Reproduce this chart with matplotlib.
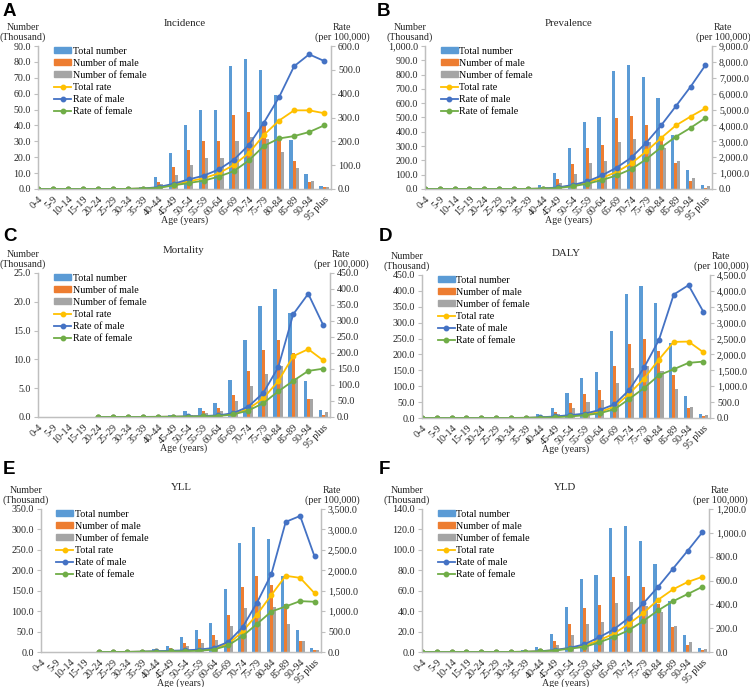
import numpy as np
import matplotlib.pyplot as plt
from matplotlib.patches import Patch
from matplotlib.lines import Line2D
from matplotlib.ticker import FuncFormatter

nan = np.nan

ages = ['0-4', '5-9', '10-14', '15-19', '20-24', '25-29', '30-34', '35-39',
        '40-44', '45-49', '50-54', '55-59', '60-64', '65-69', '70-74',
        '75-79', '80-84', '85-89', '90-94', '95 plus']

# A - Incidence (numbers in thousand, rates per 100,000)
inc_total = [0, 0, 0, 0, 0, 0, 0.4, 1.5, 7.6, 22.8, 40.0, 49.8, 49.7, 77.2, 82.0, 75.0, 59.0, 31.0, 9.5, 2.0]
inc_male = [0, 0, 0, 0, 0, 0, 0.2, 0.8, 4.5, 14.0, 24.5, 30.2, 30.2, 46.4, 48.5, 40.5, 33.0, 17.5, 4.3, 1.0]
inc_female = [0, 0, 0, 0, 0, 0, 0.2, 0.7, 3.1, 8.6, 15.3, 19.5, 19.2, 30.4, 33.0, 31.5, 23.5, 13.2, 5.0, 1.0]
inc_rate_total = [0, 0, 0, 0, 0, 0, 0.5, 2, 6, 17, 32, 45, 66, 101, 151, 227, 287, 330, 330, 318]
inc_rate_male = [0, 0, 0, 0, 0, 0, 0.5, 2, 8, 22, 40, 56, 82, 123, 185, 279, 385, 515, 565, 537]
inc_rate_female = [0, 0, 0, 0, 0, 0, 0.5, 2, 5, 15, 25, 35, 52, 75, 120, 181, 212, 222, 239, 267]

# B - Prevalence
prev_total = [0, 0, 0, 0, 0, 0, 1, 3, 28, 115, 285, 468, 503, 828, 865, 782, 635, 380, 133, 30]
prev_male = [0, 0, 0, 0, 0, 0, 0.5, 1.5, 15, 70, 178, 287, 308, 497, 512, 450, 345, 180, 53, 10]
prev_female = [0, 0, 0, 0, 0, 0, 0.5, 1.5, 12, 45, 108, 182, 195, 330, 352, 332, 290, 198, 80, 20]
prev_rate_total = [0, 0, 0, 0, 0, 0, 2, 8, 25, 80, 200, 410, 700, 1080, 1620, 2370, 3210, 4000, 4560, 5080]
prev_rate_male = [0, 0, 0, 0, 0, 0, 2, 8, 30, 100, 250, 480, 860, 1350, 1990, 2920, 4000, 5210, 6440, 7790]
prev_rate_female = [0, 0, 0, 0, 0, 0, 2, 6, 20, 60, 170, 330, 565, 860, 1260, 1880, 2620, 3290, 3850, 4470]

# C - Mortality
mort_total = [0, 0, 0, 0, 0, 0, 0, 0.1, 0.15, 0.3, 1.0, 1.6, 2.4, 6.4, 13.4, 19.2, 22.2, 18.0, 6.2, 1.2]
mort_male = [0, 0, 0, 0, 0, 0, 0, 0.05, 0.1, 0.2, 0.6, 1.0, 1.5, 3.8, 8.0, 11.7, 13.3, 11.1, 3.2, 0.4]
mort_female = [0, 0, 0, 0, 0, 0, 0, 0.05, 0.05, 0.1, 0.4, 0.7, 1.0, 2.7, 5.4, 7.5, 8.9, 6.8, 3.1, 0.8]
mort_rate_total = [nan, nan, nan, nan, 0, 0, 0, 0.2, 0.5, 1, 1.5, 3, 4, 9, 25, 58, 112, 190, 212, 177]
mort_rate_male = [nan, nan, nan, nan, 0, 0, 0, 0.3, 0.6, 1, 2, 3, 5, 12, 32, 75, 155, 321, 385, 287]
mort_rate_female = [nan, nan, nan, nan, 0, 0, 0, 0.1, 0.3, 0.6, 1, 2, 3, 8, 20, 43, 80, 113, 144, 151]

# D - DALY
daly_total = [0, 0, 0, 0, 0, 0, 0.5, 1, 12, 33, 80, 125, 145, 275, 390, 415, 362, 235, 70, 13]
daly_male = [0, 0, 0, 0, 0, 0, 0.3, 0.6, 7, 20, 48, 75, 87, 163, 232, 250, 212, 134, 33, 5]
daly_female = [0, 0, 0, 0, 0, 0, 0.2, 0.4, 5, 12, 30, 49, 57, 111, 157, 165, 148, 92, 36, 9]
daly_rate_total = [0, 0, 0, 0, 0, 0, 2, 5, 15, 35, 70, 110, 190, 355, 765, 1240, 1840, 2395, 2405, 2070]
daly_rate_male = [0, 0, 0, 0, 0, 0, 2, 6, 20, 50, 90, 140, 250, 430, 885, 1590, 2455, 3885, 4180, 3345]
daly_rate_female = [0, 0, 0, 0, 0, 0, 1, 4, 12, 25, 50, 85, 150, 275, 600, 945, 1345, 1535, 1735, 1775]

# E - YLL
yll_total = [0, 0, 0, 0, 0, 0, 0.5, 2, 7, 15, 36, 54, 70, 155, 266, 306, 276, 186, 53, 9]
yll_male = [0, 0, 0, 0, 0, 0, 0.3, 1.2, 4, 9, 22, 31, 41, 90, 158, 186, 165, 118, 26, 5]
yll_female = [0, 0, 0, 0, 0, 0, 0.2, 0.8, 3, 5, 14, 21, 29, 64, 108, 119, 110, 68, 26, 5]
yll_rate_total = [nan, nan, nan, nan, 0, 1, 3, 8, 15, 25, 30, 50, 80, 195, 500, 915, 1395, 1865, 1815, 1440]
yll_rate_male = [nan, nan, nan, nan, 0, 1, 3, 10, 20, 30, 40, 60, 100, 245, 605, 1205, 1905, 3185, 3330, 2340]
yll_rate_female = [nan, nan, nan, nan, 0, 1, 2, 6, 10, 15, 20, 30, 60, 160, 390, 685, 990, 1115, 1245, 1230]

# F - YLD
yld_total = [0, 0, 0, 0, 0, 0, 0.5, 1.5, 4.5, 18, 44, 71, 75, 121, 123.5, 109, 86, 50, 17, 4]
yld_male = [0, 0, 0, 0, 0, 0, 0.3, 0.8, 2.5, 11, 27, 43.5, 46, 73.5, 74, 63.5, 47, 24, 6.5, 1.5]
yld_female = [0, 0, 0, 0, 0, 0, 0.2, 0.7, 2, 7, 16.5, 27, 29, 47.5, 49, 45.5, 39, 25.5, 10, 2.5]
yld_rate_total = [0, 0, 0, 0, 0, 0, 0.5, 2, 6, 15, 33, 53, 98, 154, 235, 327, 438, 525, 587, 631]
yld_rate_male = [0, 0, 0, 0, 0, 0, 0.5, 2, 6, 17, 35, 64, 123, 190, 285, 408, 547, 698, 849, 1005]
yld_rate_female = [0, 0, 0, 0, 0, 0, 0.5, 2, 5, 12, 28, 42, 81, 126, 182, 260, 349, 425, 486, 547]

# colours (Office palette)
c_tot, c_male, c_fem = '#5B9BD5', '#ED7D31', '#A5A5A5'
l_tot, l_male, l_fem = '#FFC000', '#4472C4', '#70AD47'
grid_c = '#BFBFBF'
txt_c = '#262626'

plt.rcParams['font.family'] = ['Liberation Serif', 'DejaVu Serif']
plt.rcParams['font.size'] = 7.2

W, H = 750, 687
fig = plt.figure(figsize=(W / 100, H / 100), dpi=100)
fmt = FuncFormatter(lambda v, p: f'{v:,.1f}')


def panel(box, letter, lpos, title, lmax, lstep, rmax, rstep,
          tot, male, fem, r_tot, r_male, r_fem):
    l, t, r, b = box
    ax = fig.add_axes([l / W, 1 - b / H, (r - l) / W, (b - t) / H])
    x = np.arange(len(ages))
    bw = 0.21
    ax.bar(x - bw, tot, bw, color=c_tot)
    ax.bar(x, male, bw, color=c_male)
    ax.bar(x + bw, fem, bw, color=c_fem)
    ax.set_xlim(0, 19.45)
    ax.set_ylim(0, lmax)
    ax.set_yticks(np.arange(0, lmax + lstep / 2, lstep))
    ax.yaxis.set_major_formatter(fmt)
    ax.set_xticks(x)
    ax.set_xticklabels(ages, rotation=45, ha='right', rotation_mode='anchor')
    ax.tick_params(axis='x', length=0, pad=4, colors=txt_c)
    ax.tick_params(axis='y', length=3, width=0.8, color=grid_c, pad=2, labelcolor=txt_c)

    ax2 = ax.twinx()
    mk = dict(marker='o', markersize=3.2, linewidth=1.3)
    ax2.plot(x, r_tot, color=l_tot, **mk)
    ax2.plot(x, r_male, color=l_male, **mk)
    ax2.plot(x, r_fem, color=l_fem, **mk)
    ax2.set_ylim(0, rmax)
    ax2.set_yticks(np.arange(0, rmax + rstep / 2, rstep))
    ax2.yaxis.set_major_formatter(fmt)
    ax2.tick_params(axis='y', length=3, width=0.8, color=grid_c, pad=2, labelcolor=txt_c)

    for a in (ax, ax2):
        a.spines['top'].set_visible(False)
        for s in ('left', 'right', 'bottom'):
            a.spines[s].set_color(grid_c)
            a.spines[s].set_linewidth(0.9)

    handles = [Patch(color=c_tot), Patch(color=c_male), Patch(color=c_fem),
               Line2D([], [], color=l_tot, **mk),
               Line2D([], [], color=l_male, **mk),
               Line2D([], [], color=l_fem, **mk)]
    labels = ['Total number', 'Number of male', 'Number of female',
              'Total rate', 'Rate of male', 'Rate of female']
    ax2.legend(handles, labels, loc='upper left', bbox_to_anchor=(0.055, 0.995),
               frameon=False, fontsize=7.2, handlelength=1.7, handleheight=0.45,
               handletextpad=0.15, labelspacing=0.3, borderpad=0, borderaxespad=0)

    px = 72 / 100
    ax.annotate(title, xy=(0.5, 1), xycoords='axes fraction', xytext=(0, 22 * px),
                textcoords='offset points', ha='center', va='center', fontsize=7.8, color=txt_c)
    ax.annotate('Number\n(Thousand)', xy=(0, 1), xycoords='axes fraction',
                xytext=(-15 * px, 4 * px), textcoords='offset points',
                ha='center', va='bottom', fontsize=7.2, color=txt_c, linespacing=1.1)
    ax.annotate('Rate\n(per 100,000)', xy=(1, 1), xycoords='axes fraction',
                xytext=(11 * px, 4 * px), textcoords='offset points',
                ha='center', va='bottom', fontsize=7.2, color=txt_c, linespacing=1.1)
    ax.annotate('Age (years)', xy=(0.5, 0), xycoords='axes fraction',
                xytext=(0, -31 * px), textcoords='offset points',
                ha='center', va='center', fontsize=7.2, color=txt_c)
    fig.text(lpos[0] / W, 1 - lpos[1] / H, letter, fontsize=13.5, fontweight='bold',
             family='Liberation Sans', ha='left', va='top')


panel((38, 46, 331, 189), 'A', (3, 3), 'Incidence', 90, 10, 600, 100,
      inc_total, inc_male, inc_female, inc_rate_total, inc_rate_male, inc_rate_female)
panel((425, 46, 712, 189), 'B', (377, 3), 'Prevalence', 1000, 100, 9000, 1000,
      prev_total, prev_male, prev_female, prev_rate_total, prev_rate_male, prev_rate_female)
panel((38, 273, 330, 417), 'C', (3, 228), 'Mortality', 25, 5, 450, 50,
      mort_total, mort_male, mort_female, mort_rate_total, mort_rate_male, mort_rate_female)
panel((422, 275, 710, 418), 'D', (379, 228), 'DALY', 450, 50, 4500, 500,
      daly_total, daly_male, daly_female, daly_rate_total, daly_rate_male, daly_rate_female)
panel((41, 509, 321, 652), 'E', (3, 461), 'YLL', 350, 50, 3500, 500,
      yll_total, yll_male, yll_female, yll_rate_total, yll_rate_male, yll_rate_female)
panel((422, 509, 709, 652), 'F', (379, 461), 'YLD', 140, 20, 1200, 200,
      yld_total, yld_male, yld_female, yld_rate_total, yld_rate_male, yld_rate_female)

fig.savefig('out.png', dpi=100)
